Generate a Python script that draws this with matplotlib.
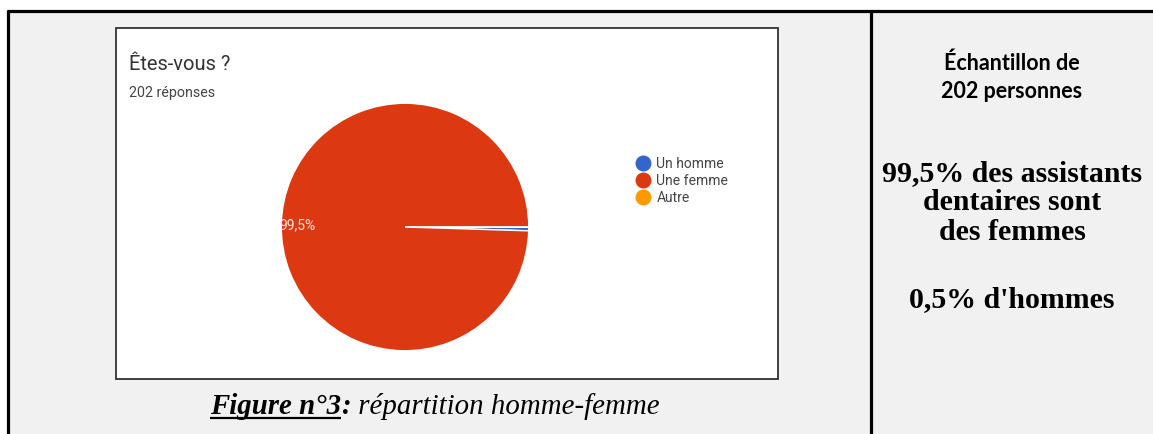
import matplotlib
matplotlib.use("Agg")
import matplotlib.pyplot as plt
from matplotlib.lines import Line2D
from matplotlib.patches import Rectangle

# ---- data ----
categories = ["Un homme", "Une femme", "Autre"]
counts = [1, 201, 0]
colors = ["#3366cc", "#dc3912", "#ff9900"]
chart_title = "Êtes-vous ?"
chart_subtitle = "202 réponses"
pie_label = "99,5%"
caption_bold = "Figure n°3"
caption_rest = " répartition homme-femme"
side_sans = ["Échantillon de", "202 personnes"]
side_serif = ["99,5% des assistants", "dentaires sont", "des femmes"]
side_serif2 = "0,5% d'hommes"

W, H = 1153, 434
fig = plt.figure(figsize=(W / 100, H / 100), dpi=100, facecolor="white")

# page axes in pixel coordinates
bg = fig.add_axes([0, 0, 1, 1])
bg.set_xlim(0, W)
bg.set_ylim(H, 0)
bg.axis("off")

bg.add_patch(Rectangle((8, 11), W - 8, H - 11, facecolor="#f1f1f1", edgecolor="none"))
bg.plot([6.5, W], [10.5, 10.5], color="black", lw=2.3, solid_capstyle="butt")
bg.plot([7.7, 7.7], [9.5, H], color="black", lw=2.3, solid_capstyle="butt")
bg.plot([871, 871], [9.5, H], color="black", lw=2.3, solid_capstyle="butt")

# inner screenshot box
bg.add_patch(Rectangle((117, 29), 662, 351, facecolor="#d0d0d0", edgecolor="none"))
bg.add_patch(Rectangle((116, 28), 662, 351, facecolor="white", edgecolor="#333333", lw=1.3))

bg.text(129, 64, chart_title, fontsize=14.5, family="Roboto", color="#333333", va="center", ha="left")
bg.text(129, 93, chart_subtitle, fontsize=10.3, family="Roboto", color="#444444", va="center", ha="left")

# pie
cx, cy, r = 405, 227, 125
pax = fig.add_axes([(cx - r) / W, (H - cy - r) / H, 2 * r / W, 2 * r / H])


def fmt(p):
    return pie_label if p > 50 else ""


wedges, texts, autotexts = pax.pie(
    counts, colors=colors, startangle=0, counterclock=False,
    autopct=fmt, pctdistance=0.87,
    wedgeprops=dict(edgecolor="white", linewidth=1.0),
    textprops=dict(color="#fbe3dc", fontsize=10, family="Roboto"),
)
pax.set_xlim(-1.01, 1.01)
pax.set_ylim(-1.01, 1.01)
pax.set_aspect("equal")
pax.axis("off")

handles = [Line2D([], [], marker="o", ls="none", markersize=10.5, markerfacecolor=c,
                  markeredgecolor=c) for c in colors]
fig.legend(handles, categories, loc="upper left", bbox_to_anchor=(628 / W, 1 - 150 / H),
           frameon=False, prop=dict(family="Roboto", size=10),
           handletextpad=0.35, labelspacing=0.22, handlelength=1.2, borderpad=0)
for t in fig.legends[0].get_texts():
    t.set_color("#444444")

# caption with underlined part
fig.canvas.draw()
renderer = fig.canvas.get_renderer()
cap_y = 414
cap_x = 210
cap_fs = 20.8
t1 = bg.text(cap_x, cap_y, caption_bold, fontsize=cap_fs, family="Liberation Serif",
             style="italic", weight="bold", va="baseline", ha="left")
t1_bb = t1.get_window_extent(renderer)
x_end = t1_bb.x1
bg.plot([cap_x, x_end], [cap_y + 4, cap_y + 4], color="black", lw=1.6, solid_capstyle="butt")
t2 = bg.text(x_end, cap_y, ":", fontsize=cap_fs, family="Liberation Serif",
             style="italic", weight="bold", va="baseline", ha="left")
t2_bb = t2.get_window_extent(renderer)
bg.text(t2_bb.x1, cap_y, caption_rest, fontsize=cap_fs, family="Liberation Serif",
        style="italic", va="baseline", ha="left")

# side column
sx = 1012
for i, s in enumerate(side_sans):
    bg.text(sx, 63 + i * 28, s, fontsize=15.5, family="Lato", weight="bold",
            ha="center", va="center")
for i, s in enumerate(side_serif):
    bg.text(sx, 174 + i * 29, s, fontsize=21.5, family="Liberation Serif", weight="bold",
            ha="center", va="center")
bg.text(sx, 300, side_serif2, fontsize=21.5, family="Liberation Serif", weight="bold",
        ha="center", va="center")

fig.savefig("out.png", dpi=100, facecolor="white")
